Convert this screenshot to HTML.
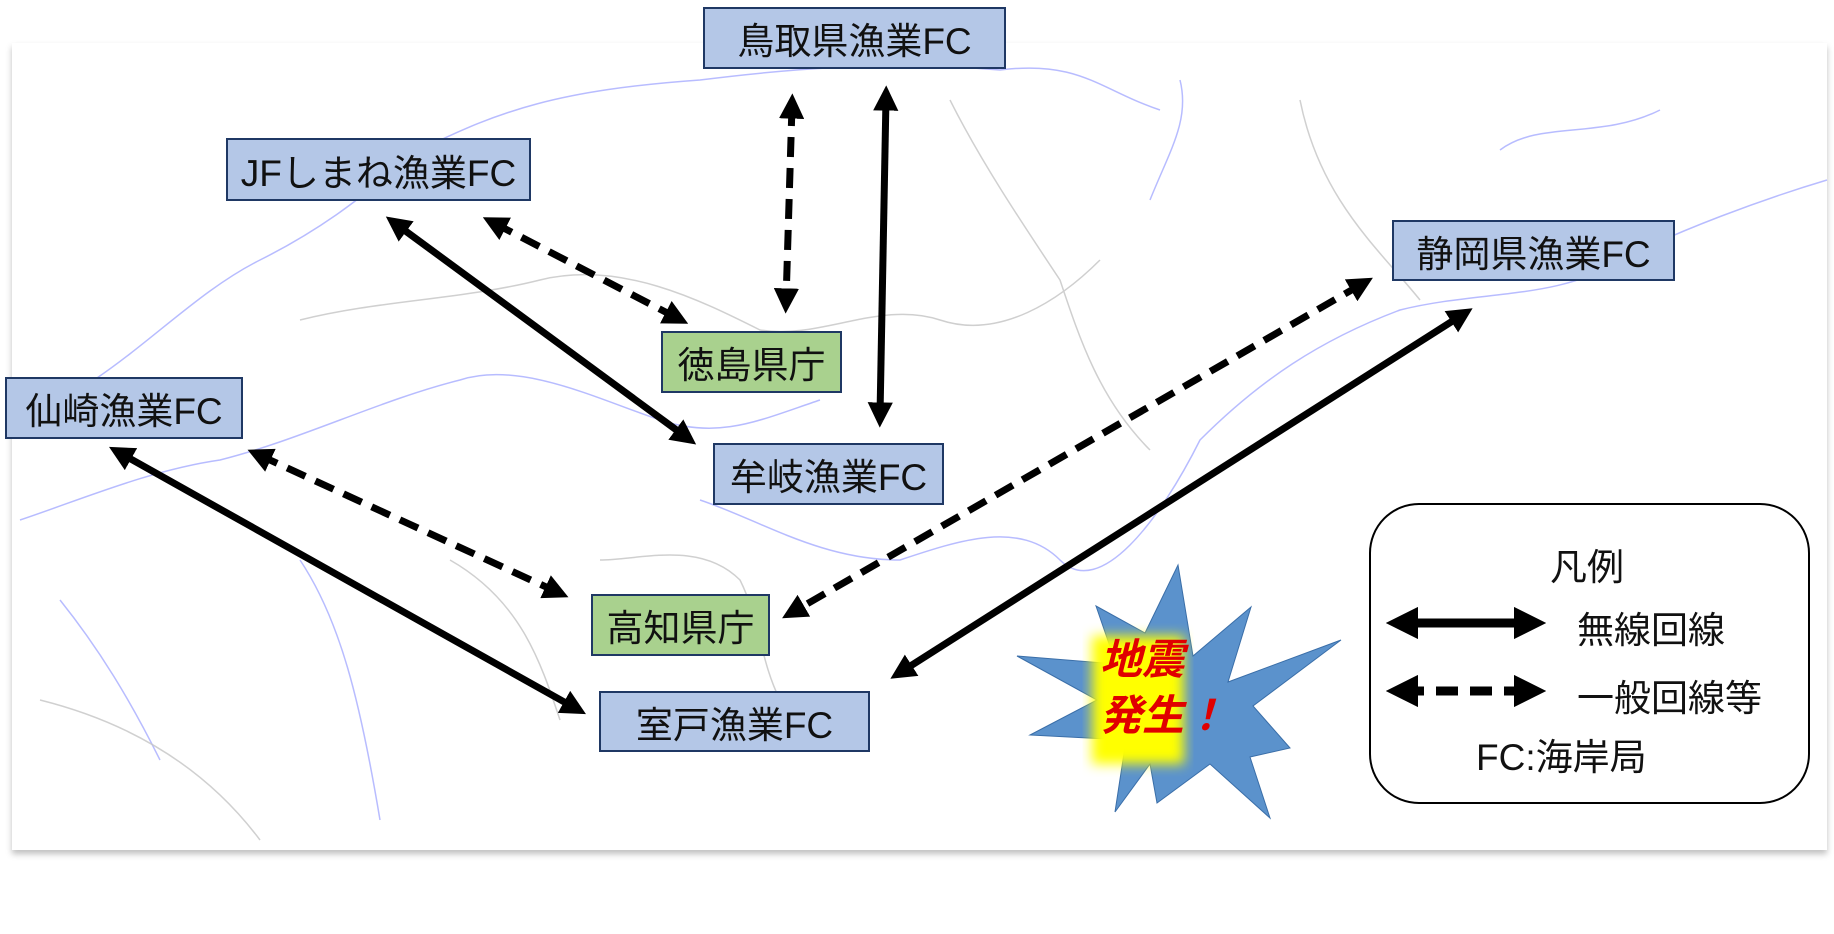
<!DOCTYPE html>
<html><head><meta charset="utf-8"><style>
body{margin:0;width:1834px;height:934px;background:#fff;overflow:hidden;position:relative;font-family:"Liberation Sans","Noto Sans CJK JP",sans-serif;}
.map{position:absolute;left:12px;top:43px;width:1815px;height:807px;background:#fff;box-shadow:0 4px 6px rgba(0,0,0,0.25);}
.b{position:absolute;border:2px solid #1f3864;background:#b4c7e7;box-sizing:border-box;display:flex;align-items:center;justify-content:center;font-size:37px;color:#111;white-space:nowrap;}
.g{background:#a9d18e;}
.leg{position:absolute;left:1369px;top:503px;width:441px;height:301px;border:2px solid #000;border-radius:50px;box-sizing:border-box;background:#fff;}
.t{position:absolute;font-size:37px;color:#111;white-space:nowrap;}
</style></head><body>
<div class="map"></div>
<svg width="1834" height="934" style="position:absolute;left:0;top:0">
<g fill="none" stroke="#9aa0ff" stroke-width="1.5" opacity="0.7">
<path d="M20 420 C120 380 180 300 260 260 C340 220 380 180 420 150 C500 110 560 90 700 80 C780 70 880 60 1000 70 C1080 60 1100 90 1160 110"/>
<path d="M20 520 C80 500 150 470 220 460 C300 440 380 400 460 380 C520 360 600 400 660 420 C720 440 760 420 820 400"/>
<path d="M700 500 C760 520 820 560 900 560 C960 540 1020 520 1060 560 C1100 600 1160 520 1200 440 C1260 380 1320 340 1400 310 C1480 290 1560 300 1620 260 C1680 230 1760 200 1827 180"/>
<path d="M1150 200 C1170 150 1190 120 1180 80 M1500 150 C1540 120 1600 140 1660 110"/>
<path d="M60 600 C100 650 130 700 160 760 M300 560 C340 620 360 700 380 820"/>
</g>
<g fill="none" stroke="#c4c4c4" stroke-width="1.5" opacity="0.8">
<path d="M300 320 C380 300 460 300 540 280 C620 260 700 300 760 330 C820 340 880 300 940 320 C1000 340 1060 300 1100 260"/>
<path d="M600 560 C640 560 700 540 740 580 C760 620 760 660 780 700"/>
<path d="M950 100 C980 160 1020 220 1060 280 C1080 340 1100 400 1150 450 M1300 100 C1320 200 1380 250 1420 300"/>
<path d="M40 700 C120 720 200 760 260 840 M450 560 C520 600 540 660 560 720"/>
</g>
<defs>
<marker id="a" viewBox="0 0 10 10" refX="5" refY="5" markerWidth="3.6" markerHeight="3.6" orient="auto-start-reverse"><path d="M0 0L10 5L0 10z" fill="#000"/></marker>
<filter id="bl"><feGaussianBlur stdDeviation="6"/></filter>
</defs>
<g stroke="#000" stroke-width="7" fill="none" marker-start="url(#a)" marker-end="url(#a)">
<line x1="886" y1="98" x2="880" y2="415"/>
<line x1="396" y1="224" x2="686" y2="437"/>
<line x1="1462" y1="315" x2="901" y2="672"/>
<line x1="120" y1="453" x2="575" y2="708"/>
</g>
<g stroke="#000" stroke-width="7" fill="none" stroke-dasharray="20 11" marker-start="url(#a)" marker-end="url(#a)">
<line x1="792" y1="106" x2="786" y2="301"/>
<line x1="494" y1="223" x2="677" y2="318"/>
<line x1="1362" y1="284" x2="793" y2="612"/>
<line x1="259" y1="455" x2="557" y2="592"/>
</g>
<polygon points="1178,565 1193,656 1251,607 1228,682 1341,640 1253,706 1290,748 1250,757 1270,818 1210,764 1157,803 1150,764 1115,812 1126,740 1030,735 1097,700 1017,656 1116,664 1096,606 1145,633" fill="#5b92cc" stroke="#3a6ea8" stroke-width="1"/>
<rect x="1092" y="636" width="92" height="128" fill="#ffff00" filter="url(#bl)"/>
<text x="1100" y="674" font-size="42" font-weight="bold" font-style="italic" fill="#e00000" font-family="Liberation Sans,Noto Sans CJK JP,sans-serif">地震</text>
<text x="1100" y="730" font-size="42" font-weight="bold" font-style="italic" fill="#e00000" font-family="Liberation Sans,Noto Sans CJK JP,sans-serif">発生！</text>
</svg>
<div class="b" style="left:703px;top:7px;width:303px;height:62px">鳥取県漁業FC</div>
<div class="b" style="left:226px;top:138px;width:305px;height:63px">JFしまね漁業FC</div>
<div class="b" style="left:1392px;top:220px;width:283px;height:61px">静岡県漁業FC</div>
<div class="b g" style="left:661px;top:331px;width:181px;height:62px">徳島県庁</div>
<div class="b" style="left:5px;top:377px;width:238px;height:62px">仙崎漁業FC</div>
<div class="b" style="left:713px;top:443px;width:231px;height:62px">牟岐漁業FC</div>
<div class="b g" style="left:591px;top:594px;width:179px;height:62px">高知県庁</div>
<div class="b" style="left:599px;top:691px;width:271px;height:61px">室戸漁業FC</div>
<div class="leg"></div>
<svg width="1834" height="934" style="position:absolute;left:0;top:0">
<defs><marker id="a2" viewBox="0 0 10 10" refX="5" refY="5" markerWidth="3.6" markerHeight="3.6" orient="auto-start-reverse"><path d="M0 0L10 5L0 10z" fill="#000"/></marker></defs>
<line x1="1402" y1="623" x2="1530" y2="623" stroke="#000" stroke-width="9" marker-start="url(#a2)" marker-end="url(#a2)"/>
<line x1="1402" y1="691" x2="1530" y2="691" stroke="#000" stroke-width="9" stroke-dasharray="22 12" marker-start="url(#a2)" marker-end="url(#a2)"/>
</svg>
<div class="t" style="left:1550px;top:537px">凡例</div>
<div class="t" style="left:1577px;top:600px">無線回線</div>
<div class="t" style="left:1577px;top:668px">一般回線等</div>
<div class="t" style="left:1476px;top:727px">FC:海岸局</div>
</body></html>
